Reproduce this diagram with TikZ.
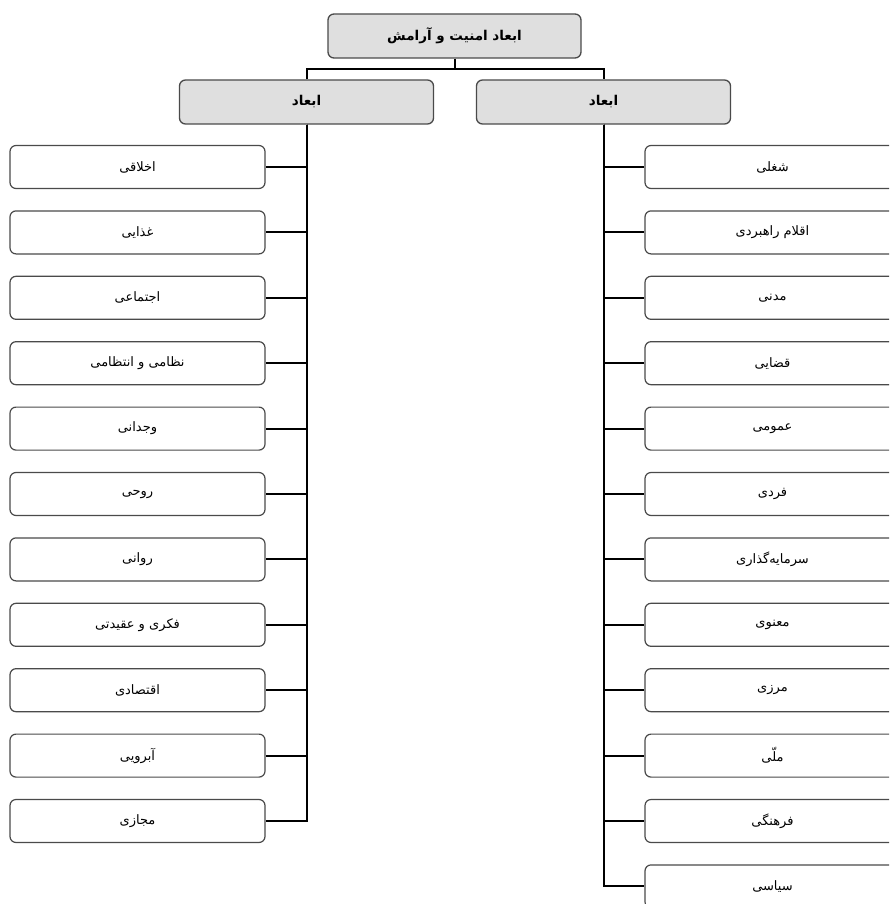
\documentclass[tikz,border=0pt]{standalone}
\usepackage{fontspec}
\TeXXeTstate=1
\newfontfamily\arabicfont[Script=Arabic]{DejaVu Sans}
\definecolor{boxgray}{HTML}{DFDFDF}
\definecolor{edgegray}{HTML}{4A4A4A}
\tikzset{
  topbox/.style={draw=edgegray, line width=1.3pt, fill=boxgray, rounded corners=6pt,
    minimum width=253pt, minimum height=44pt, inner sep=0pt, font=\arabicfont\bfseries\fontsize{13.5}{15}\selectfont},
  itembox/.style={draw=edgegray, line width=1.2pt, fill=white, rounded corners=6pt,
    minimum width=255pt, minimum height=43pt, inner sep=0pt, font=\arabicfont\fontsize{13}{15}\selectfont},
  conn/.style={draw=black, line width=2pt}
}
\newcommand{\fa}[1]{\beginR #1\endR}
\begin{document}
\begin{tikzpicture}[x=1pt,y=-1pt]
\useasboundingbox (0,0) rectangle (889,904);
\clip (0,0) rectangle (889,904);
\node[topbox] (top) at (454.5,36) {\fa{ابعاد امنیت و آرامش}};
\node[topbox, minimum width=254pt] (L) at (306.5,102) {\fa{ابعاد}};
\node[topbox, minimum width=254pt] (R) at (603.5,102) {\fa{ابعاد}};
\coordinate (j) at (454.5,69);
\draw[conn] (top.south) -- (j);
\draw[conn] (L.north) |- (j) -| (R.north);
% left column
\foreach \t [count=\i] in {اخلاقی,غذایی,اجتماعی,نظامی و انتظامی,وجدانی,روحی,روانی,فکری و عقیدتی,اقتصادی,آبرویی,مجازی}{
  \node[itembox] (l\i) at (137.5,{167+65.4*(\i-1)}) {\fa{\t}};
  \draw[conn] (L.south) |- (l\i.east);
}
% right column
\foreach \t [count=\i] in {شغلی,اقلام راهبردی,مدنی,قضایی,عمومی,فردی,سرمایه‌گذاری,معنوی,مرزی,ملّی,فرهنگی,سیاسی}{
  \node[itembox] (r\i) at (772.5,{167+65.4*(\i-1)}) {\fa{\t}};
  \draw[conn] (R.south) |- (r\i.west);
}
\end{tikzpicture}
\end{document}
